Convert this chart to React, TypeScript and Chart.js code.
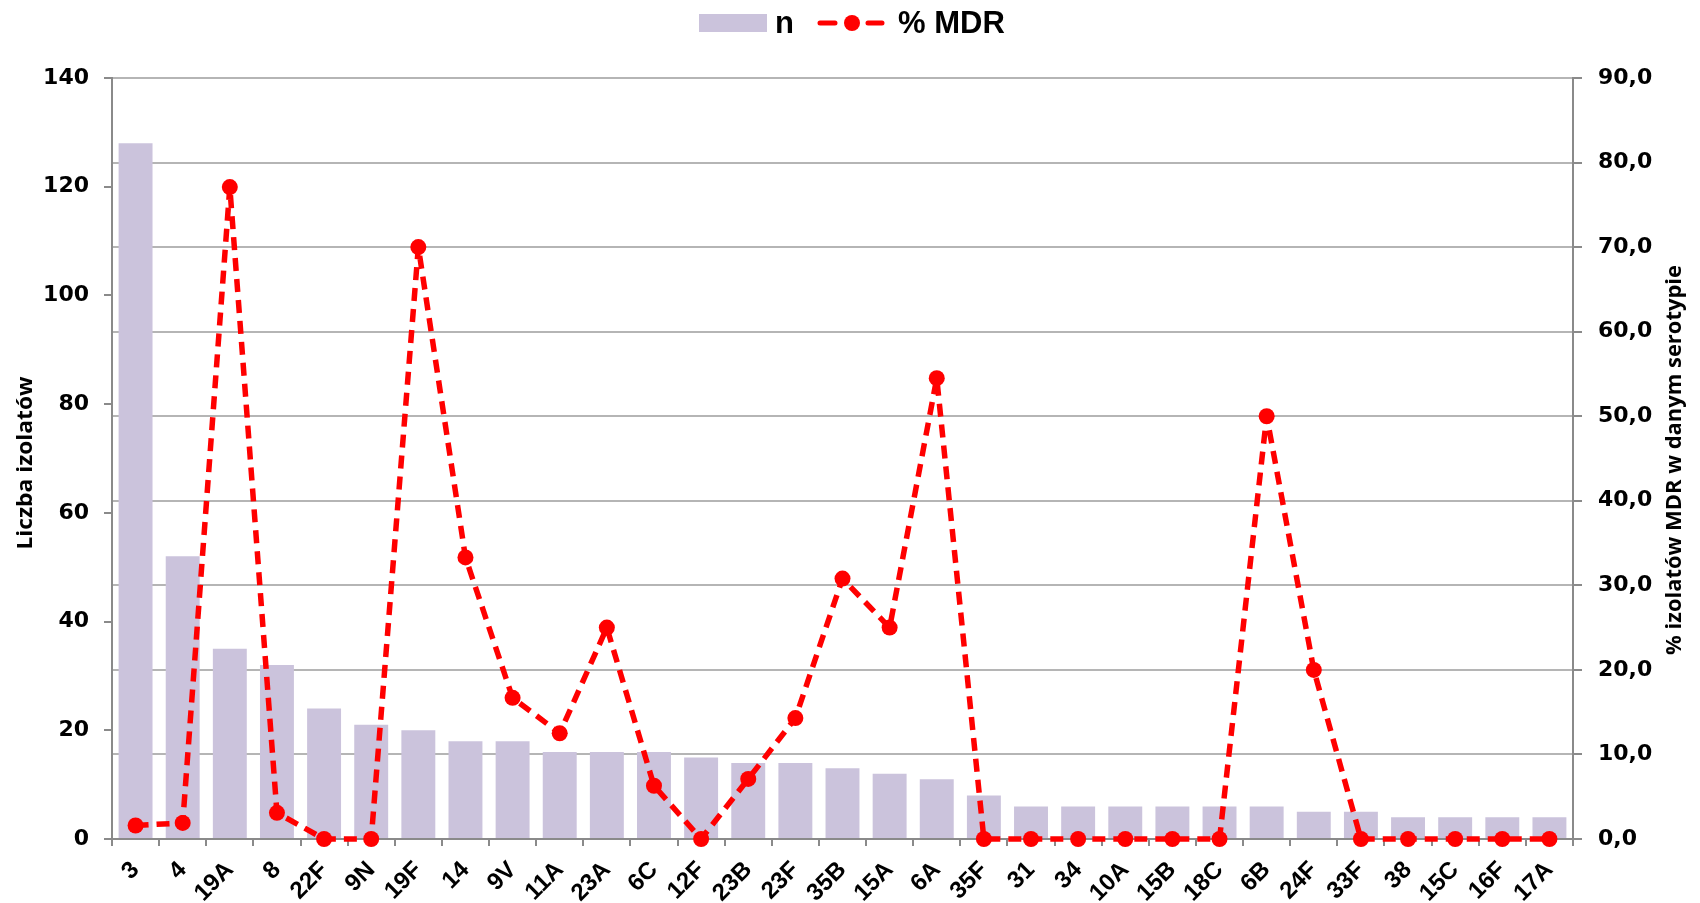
import React, { useEffect, useRef } from "react";
import { Chart, registerables } from "chart.js";

Chart.register(...registerables);

const categories = ["3", "4", "19A", "8", "22F", "9N", "19F", "14", "9V", "11A", "23A", "6C", "12F", "23B", "23F", "35B", "15A", "6A", "35F", "31", "34", "10A", "15B", "18C", "6B", "24F", "33F", "38", "15C", "16F", "17A"];
const nValues = [128, 52, 35, 32, 24, 21, 20, 18, 18, 16, 16, 16, 15, 14, 14, 13, 12, 11, 8, 6, 6, 6, 6, 6, 6, 5, 5, 4, 4, 4, 4];
const mdrValues = [1.6, 1.9, 77.1, 3.1, 0, 0, 70.0, 33.3, 16.7, 12.5, 25.0, 6.3, 0, 7.1, 14.3, 30.8, 25.0, 54.5, 0, 0, 0, 0, 0, 0, 50.0, 20.0, 0, 0, 0, 0, 0];

const seriesNames = ["n", "% MDR"];
const leftTitle = "Liczba izolatów";
const rightTitle = "% izolatów MDR w danym serotypie";

const BAR_COLOR = "#cbc3dc";
const LINE_COLOR = "#ff0000";
const AXIS_COLOR = "#8a8a8a";
const GRID_COLOR = "#b5b5b5";
const TICK_FONT = '"DejaVu Sans", Verdana, sans-serif';
const LABEL_FONT = '"Liberation Sans", Arial, sans-serif';
const TITLE_FONT = '"Open Sans", "Noto Sans", sans-serif';

function drawRotatedTitle(ctx: CanvasRenderingContext2D, text: string, cx: number, cy: number, targetLen: number) {
  ctx.save();
  ctx.font = `bold 22px ${TITLE_FONT}`;
  const w = ctx.measureText(text).width;
  ctx.translate(cx, cy);
  ctx.rotate(-Math.PI / 2);
  ctx.scale(targetLen / w, 1);
  ctx.textAlign = "center";
  ctx.textBaseline = "middle";
  ctx.fillStyle = "#000";
  ctx.fillText(text, 0, 0);
  ctx.restore();
}

const overlayPlugin = {
  id: "overlay",
  afterDraw(chart: any) {
    const ctx: CanvasRenderingContext2D = chart.ctx;
    ctx.save();
    ctx.fillStyle = BAR_COLOR;
    ctx.fillRect(699, 14, 68, 18);
    ctx.fillStyle = "#000";
    ctx.font = `bold 31px ${LABEL_FONT}`;
    ctx.textAlign = "left";
    ctx.textBaseline = "alphabetic";
    ctx.fillText(seriesNames[0], 775, 33);
    ctx.strokeStyle = LINE_COLOR;
    ctx.lineWidth = 5;
    ctx.lineCap = "round";
    ctx.beginPath();
    ctx.moveTo(820, 23);
    ctx.lineTo(835, 23);
    ctx.moveTo(868, 23);
    ctx.lineTo(882, 23);
    ctx.stroke();
    ctx.fillStyle = LINE_COLOR;
    ctx.beginPath();
    ctx.arc(852, 23, 8, 0, Math.PI * 2);
    ctx.fill();
    ctx.fillStyle = "#000";
    ctx.fillText(seriesNames[1], 898, 33);
    ctx.restore();

    drawRotatedTitle(ctx, leftTitle, 26, 463, 173);
    drawRotatedTitle(ctx, rightTitle, 1675, 460, 390);
  },
};

export default function App() {
  const canvasRef = useRef<HTMLCanvasElement | null>(null);

  useEffect(() => {
    if (!canvasRef.current) return;
    const chart = new Chart(canvasRef.current, {
      type: "bar",
      data: {
        labels: categories,
        datasets: [
          {
            type: "line",
            label: seriesNames[1],
            data: mdrValues,
            yAxisID: "y1",
            borderColor: LINE_COLOR,
            backgroundColor: LINE_COLOR,
            borderWidth: 5.5,
            borderDash: [13, 8],
            borderJoinStyle: "round",
            pointRadius: 8,
            pointBorderWidth: 0,
            pointBackgroundColor: LINE_COLOR,
            tension: 0,
            fill: false,
            clip: false,
            order: 0,
          } as any,
          {
            type: "bar",
            label: seriesNames[0],
            data: nValues,
            yAxisID: "y",
            backgroundColor: BAR_COLOR,
            barPercentage: 0.72,
            categoryPercentage: 1,
            order: 1,
          },
        ],
      },
      options: {
        animation: false,
        responsive: false,
        maintainAspectRatio: false,
        layout: { padding: { top: 78, left: 0, right: 0, bottom: 0 } },
        plugins: {
          legend: { display: false },
          tooltip: { enabled: false },
        },
        scales: {
          x: {
            position: "bottom",
            afterFit: (scale: any) => {
              scale.height = 64;
            },
            grid: {
              display: true,
              drawOnChartArea: false,
              offset: true,
              tickLength: 7,
              color: AXIS_COLOR,
              lineWidth: 2,
            },
            border: { color: AXIS_COLOR, width: 2 },
            ticks: {
              autoSkip: false,
              maxRotation: 45,
              minRotation: 45,
              padding: 10,
              color: "#000",
              font: { family: LABEL_FONT, weight: "bold", size: 24 },
            },
          },
          y: {
            position: "left",
            min: 0,
            max: 140,
            afterFit: (scale: any) => {
              scale.width = 112;
            },
            grid: {
              drawOnChartArea: false,
              tickLength: 8,
              color: AXIS_COLOR,
              lineWidth: 2,
            },
            border: { color: AXIS_COLOR, width: 2 },
            ticks: {
              stepSize: 20,
              padding: 15,
              color: "#000",
              font: { family: TICK_FONT, weight: "bold", size: 22 },
            },
          },
          y1: {
            position: "right",
            min: 0,
            max: 90,
            afterFit: (scale: any) => {
              scale.width = 127;
            },
            grid: {
              drawOnChartArea: true,
              tickLength: 9,
              color: GRID_COLOR,
              tickColor: AXIS_COLOR,
              lineWidth: 2,
            },
            border: { color: AXIS_COLOR, width: 2 },
            ticks: {
              stepSize: 10,
              padding: 16,
              color: "#000",
              font: { family: TICK_FONT, weight: "bold", size: 22 },
              callback: (v: any) => Number(v).toFixed(1).replace(".", ","),
            },
          },
        },
      },
      plugins: [overlayPlugin],
    });
    return () => chart.destroy();
  }, []);

  return (
    <div style={{ position: "absolute", left: 0, top: 0, width: 1700, height: 903, background: "#fff" }}>
      <canvas ref={canvasRef} width={1700} height={903} style={{ width: 1700, height: 903, display: "block" }} />
    </div>
  );
}
